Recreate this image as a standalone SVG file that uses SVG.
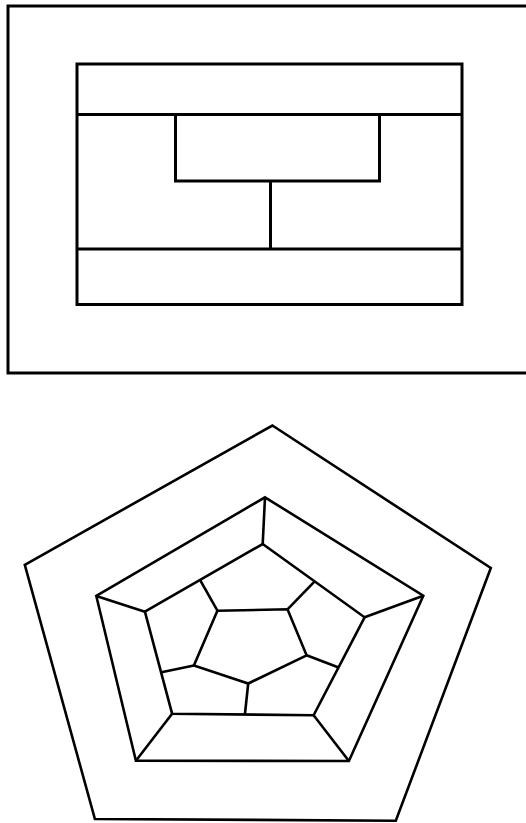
<svg xmlns="http://www.w3.org/2000/svg" width="526" height="823" viewBox="0 0 526 823">
<style>
.s{fill:none;stroke:#000;stroke-width:3;stroke-linejoin:miter}
.p{fill:none;stroke:#000;stroke-width:2.6;stroke-linejoin:miter}
</style>
<rect x="0" y="0" width="526" height="823" fill="#fff"/>
<g id="plan">
<g id="outer-rect"><rect class="s" x="8" y="6" width="530" height="367"/></g>
<g id="inner-rect"><rect class="s" x="77" y="64" width="385" height="240.5"/></g>
<g id="center-rect"><rect class="s" x="175.5" y="114.5" width="204" height="66.5"/></g>
<g id="plan-lines">
<line class="s" x1="77" y1="114.5" x2="462" y2="114.5"/>
<line class="s" x1="77" y1="249" x2="462" y2="249"/>
<line class="s" x1="270.5" y1="181" x2="270.5" y2="249"/>
</g>
</g>
<g id="pentagons">
<g id="outer-pentagon"><polygon class="p" points="272.4,425.5 490.8,568 395.8,820.7 94.9,819 24.8,564.8"/></g>
<g id="middle-pentagon"><polygon class="p" points="265,497.3 423.3,595.7 348.9,761 135.9,760.7 96.3,596"/></g>
<g id="inner-pentagon"><polygon class="p" points="262.7,544 364.6,617.3 313.6,715.3 172.1,713.7 144.9,611.7"/></g>
<g id="center-pentagon"><polygon class="p" points="217.4,610.7 287.5,609.3 306.6,655.3 248.2,683.5 193.9,665.5"/></g>
<g id="spokes">
<line class="p" x1="265" y1="497.3" x2="262.7" y2="544"/>
<line class="p" x1="96.3" y1="596" x2="144.9" y2="611.7"/>
<line class="p" x1="423.3" y1="595.7" x2="364.6" y2="617.3"/>
<line class="p" x1="135.9" y1="760.7" x2="172.1" y2="713.7"/>
<line class="p" x1="348.9" y1="761" x2="313.6" y2="715.3"/>
<line class="p" x1="217.4" y1="610.7" x2="200.3" y2="580.3"/>
<line class="p" x1="287.5" y1="609.3" x2="314.7" y2="581.4"/>
<line class="p" x1="306.6" y1="655.3" x2="338" y2="667.3"/>
<line class="p" x1="248.2" y1="683.5" x2="244.9" y2="714.5"/>
<line class="p" x1="193.9" y1="665.5" x2="161.5" y2="672.3"/>
</g>
</g>
</svg>
